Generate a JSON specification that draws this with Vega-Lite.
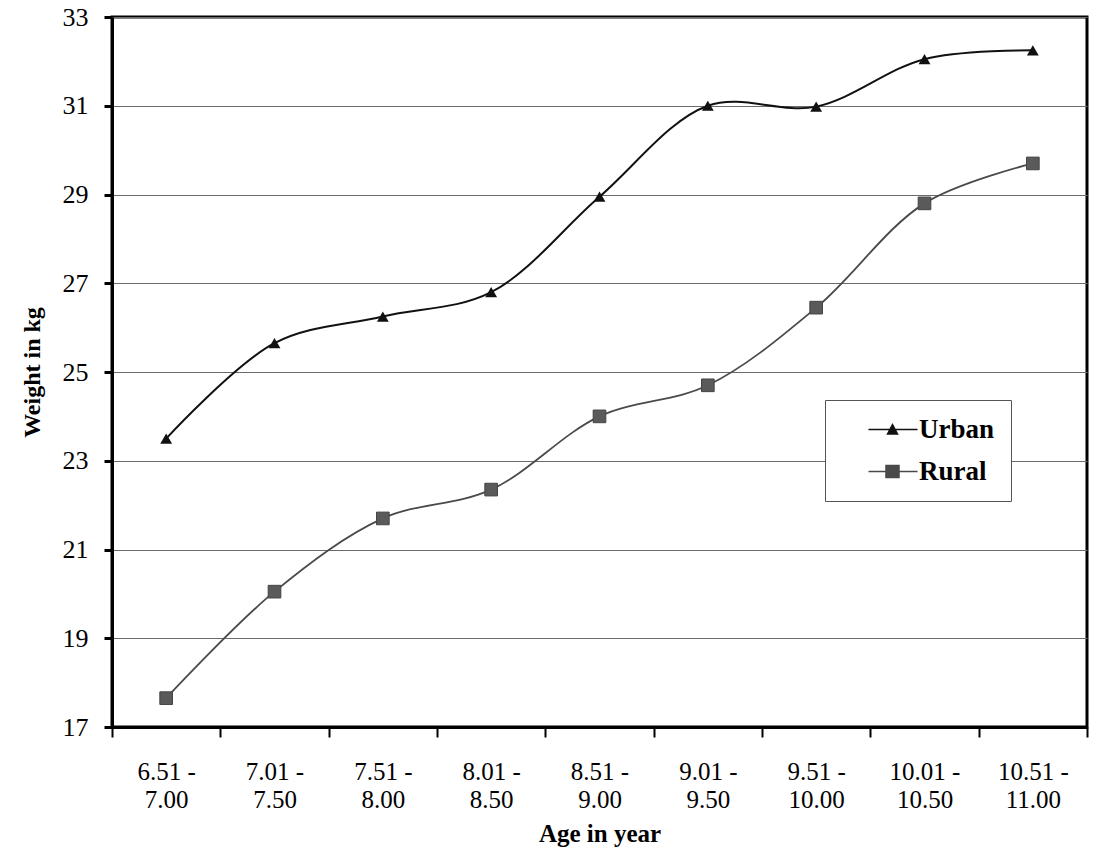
{
  "$schema": "https://vega.github.io/schema/vega-lite/v6.json",
  "autosize": "none",
  "width": 975,
  "height": 710,
  "padding": {"left": 112, "top": 17, "right": 13, "bottom": 121},
  "background": "white",
  "config": {
    "view": {"stroke": "#000", "strokeWidth": 3},
    "font": "Liberation Serif"
  },
  "data": {
    "values": [
      {"age": "6.51 -|7.00", "series": "Urban", "weight": 23.5},
      {"age": "7.01 -|7.50", "series": "Urban", "weight": 25.65},
      {"age": "7.51 -|8.00", "series": "Urban", "weight": 26.25},
      {"age": "8.01 -|8.50", "series": "Urban", "weight": 26.8},
      {"age": "8.51 -|9.00", "series": "Urban", "weight": 28.95},
      {"age": "9.01 -|9.50", "series": "Urban", "weight": 31.0},
      {"age": "9.51 -|10.00", "series": "Urban", "weight": 30.98},
      {"age": "10.01 -|10.50", "series": "Urban", "weight": 32.05},
      {"age": "10.51 -|11.00", "series": "Urban", "weight": 32.25},
      {"age": "6.51 -|7.00", "series": "Rural", "weight": 17.65},
      {"age": "7.01 -|7.50", "series": "Rural", "weight": 20.05},
      {"age": "7.51 -|8.00", "series": "Rural", "weight": 21.7},
      {"age": "8.01 -|8.50", "series": "Rural", "weight": 22.35},
      {"age": "8.51 -|9.00", "series": "Rural", "weight": 24.0},
      {"age": "9.01 -|9.50", "series": "Rural", "weight": 24.7},
      {"age": "9.51 -|10.00", "series": "Rural", "weight": 26.45},
      {"age": "10.01 -|10.50", "series": "Rural", "weight": 28.8},
      {"age": "10.51 -|11.00", "series": "Rural", "weight": 29.7}
    ]
  },
  "encoding": {
    "x": {
      "field": "age",
      "type": "ordinal",
      "sort": null,
      "bandPosition": 0.5,
      "scale": {"type": "band", "paddingInner": 0, "paddingOuter": 0},
      "axis": {
        "labelAngle": 0,
        "labelExpr": "datum.value ? split(datum.value, '|') : ''",
        "labelFont": "Liberation Serif",
        "labelFontSize": 25,
        "labelLineHeight": 28,
        "labelColor": "#000",
        "labelPadding": 22,
        "labelBaseline": "top",
        "tickBand": "extent",
        "tickSize": 10,
        "tickWidth": 2,
        "tickColor": "#000",
        "domain": true,
        "domainColor": "#000",
        "domainWidth": 3,
        "grid": false,
        "title": "Age in year",
        "titleFont": "Liberation Serif",
        "titleFontSize": 25,
        "titleFontWeight": "bold",
        "titleColor": "#000",
        "titlePadding": 9
      }
    },
    "y": {
      "field": "weight",
      "type": "quantitative",
      "scale": {"domain": [17, 33], "nice": false, "zero": false},
      "axis": {
        "values": [17, 19, 21, 23, 25, 27, 29, 31, 33],
        "labelFont": "Liberation Serif",
        "labelFontSize": 26,
        "labelColor": "#000",
        "labelPadding": 16,
        "tickSize": 8,
        "tickWidth": 3,
        "tickColor": "#000",
        "domain": true,
        "domainColor": "#000",
        "domainWidth": 3,
        "grid": true,
        "gridColor": "#6b6b6b",
        "gridWidth": 1,
        "title": "Weight in kg",
        "titleFont": "Liberation Serif",
        "titleFontSize": 24,
        "titleFontWeight": "bold",
        "titleColor": "#000",
        "titlePadding": 18
      }
    }
  },
  "layer": [
    {
      "transform": [{"filter": "datum.series === 'Urban'"}],
      "mark": {"type": "line", "interpolate": "catmull-rom", "strokeWidth": 2, "color": "#111111"}
    },
    {
      "transform": [{"filter": "datum.series === 'Rural'"}],
      "mark": {"type": "line", "interpolate": "catmull-rom", "strokeWidth": 1.8, "color": "#4a4a4a"}
    },
    {
      "transform": [{"filter": "datum.series === 'Urban'"}],
      "mark": {"type": "point", "shape": "triangle-up", "filled": true, "opacity": 1, "size": 140, "color": "#111111"}
    },
    {
      "transform": [{"filter": "datum.series === 'Rural'"}],
      "mark": {"type": "point", "shape": "square", "filled": true, "opacity": 1, "size": 160, "color": "#5a5a5a", "stroke": "#444", "strokeWidth": 1}
    },
    {
      "mark": {"type": "point", "filled": true, "opacity": 0, "size": 100},
      "encoding": {
        "shape": {
          "field": "series",
          "type": "nominal",
          "scale": {
            "domain": ["Urban", "Rural"],
            "range": [
              "M2.8,0H12.6M6.6,0.9L7.6,-1L8.6,0.9Z",
              "M2.8,0H12.6M6.3,-1.2H8.9V1.2H6.3Z"
            ]
          },
          "legend": {
            "title": null,
            "orient": "none",
            "legendX": 713,
            "legendY": 383,
            "direction": "vertical",
            "padding": 16,
            "rowPadding": 14,
            "fillColor": "white",
            "strokeColor": "#555",
            "symbolSize": 100,
            "symbolOpacity": 1,
            "symbolStrokeWidth": 1.5,
            "labelFont": "Liberation Serif",
            "labelFontSize": 27,
            "labelFontWeight": "bold",
            "labelColor": "#000",
            "labelOffset": 51,
            "labelLimit": 200,
            "encode": {
              "symbols": {
                "update": {
                  "stroke": {"signal": "datum.value === 'Urban' ? '#111111' : '#4a4a4a'"},
                  "strokeWidth": {"value": 1.5}
                }
              }
            }
          }
        },
        "color": {
          "field": "series",
          "type": "nominal",
          "scale": {"domain": ["Urban", "Rural"], "range": ["#111111", "#4a4a4a"]},
          "legend": {
            "title": null,
            "orient": "none",
            "legendX": 713,
            "legendY": 383,
            "direction": "vertical",
            "padding": 16,
            "rowPadding": 14,
            "fillColor": "white",
            "strokeColor": "#555",
            "symbolSize": 100,
            "symbolOpacity": 1,
            "symbolStrokeWidth": 1.5,
            "labelFont": "Liberation Serif",
            "labelFontSize": 27,
            "labelFontWeight": "bold",
            "labelColor": "#000",
            "labelOffset": 51,
            "labelLimit": 200,
            "encode": {
              "symbols": {
                "update": {
                  "stroke": {"signal": "datum.value === 'Urban' ? '#111111' : '#4a4a4a'"},
                  "strokeWidth": {"value": 1.5}
                }
              }
            }
          }
        }
      }
    }
  ]
}
